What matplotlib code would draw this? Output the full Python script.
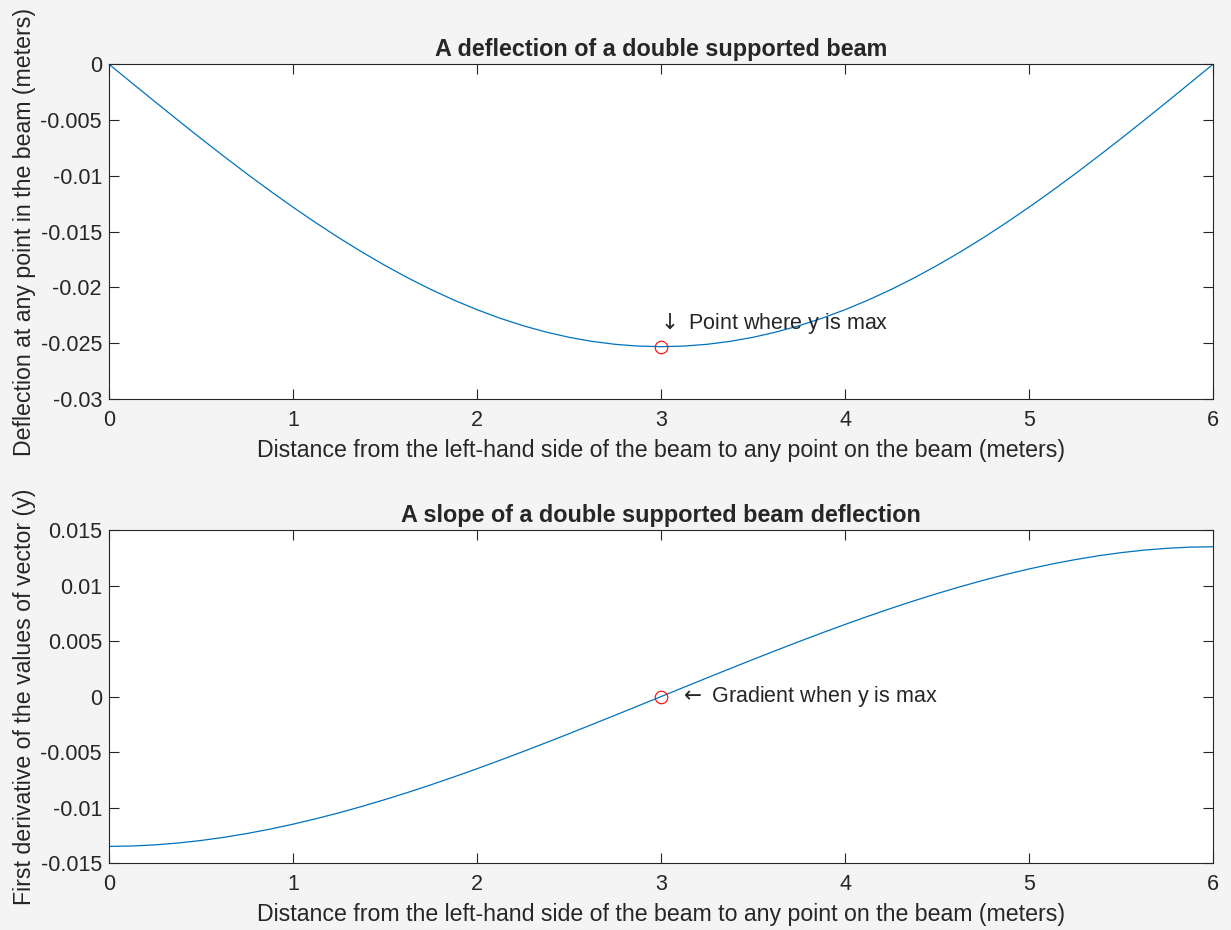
import matplotlib
matplotlib.use('Agg')
import matplotlib.pyplot as plt

# Points along the beam (m)
x = [0, 0.125, 0.25, 0.375, 0.5, 0.625, 0.75, 0.875, 1, 1.125, 1.25, 1.375,
     1.5, 1.625, 1.75, 1.875, 2, 2.125, 2.25, 2.375, 2.5, 2.625, 2.75, 2.875,
     3, 3.125, 3.25, 3.375, 3.5, 3.625, 3.75, 3.875, 4, 4.125, 4.25, 4.375,
     4.5, 4.625, 4.75, 4.875, 5, 5.125, 5.25, 5.375, 5.5, 5.625, 5.75, 5.875, 6]

# Deflection of the beam (m)
deflection = [0, -0.001686, -0.003364, -0.005024, -0.006660, -0.008264,
              -0.009828, -0.011347, -0.012813, -0.014220, -0.015563,
              -0.016836, -0.018035, -0.019155, -0.020192, -0.021141,
              -0.022000, -0.022765, -0.023434, -0.024004, -0.024473,
              -0.024839, -0.025102, -0.025260, -0.025313,
              -0.025260, -0.025102, -0.024839, -0.024473, -0.024004,
              -0.023434, -0.022765, -0.022000, -0.021141, -0.020192,
              -0.019155, -0.018035, -0.016836, -0.015563, -0.014220,
              -0.012813, -0.011347, -0.009828, -0.008264, -0.006660,
              -0.005024, -0.003364, -0.001686, 0]

# First derivative of the deflection
slope = [-0.013500, -0.013465, -0.013363, -0.013197, -0.012969, -0.012682,
         -0.012340, -0.011945, -0.011500, -0.011008, -0.010473, -0.009896,
         -0.009281, -0.008631, -0.007949, -0.007238, -0.006500, -0.005739,
         -0.004957, -0.004158, -0.003344, -0.002518, -0.001684, -0.000843,
         0.0,
         0.000843, 0.001684, 0.002518, 0.003344, 0.004158, 0.004957,
         0.005739, 0.006500, 0.007238, 0.007949, 0.008631, 0.009281,
         0.009896, 0.010473, 0.011008, 0.011500, 0.011945, 0.012340,
         0.012682, 0.012969, 0.013197, 0.013363, 0.013465, 0.013500]

x_max = 3
y_max = -0.025313
slope_at_max = 0.0

x_ticks = [0, 1, 2, 3, 4, 5, 6]
top_yticks = [-0.03, -0.025, -0.02, -0.015, -0.01, -0.005, 0]
top_ylabels = ['-0.03', '-0.025', '-0.02', '-0.015', '-0.01', '-0.005', '0']
bot_yticks = [-0.015, -0.01, -0.005, 0, 0.005, 0.01, 0.015]
bot_ylabels = ['-0.015', '-0.01', '-0.005', '0', '0.005', '0.01', '0.015']

plt.rcParams['font.family'] = ['Liberation Sans', 'DejaVu Sans']
plt.rcParams['mathtext.fontset'] = 'dejavusans'
txt = '#262626'
blue = '#0072BD'

fig = plt.figure(figsize=(12.31, 9.30), dpi=100)
fig.patch.set_facecolor('#f4f4f4')

ax1 = fig.add_axes([0.0885, 0.571, 0.897, 0.360])
ax2 = fig.add_axes([0.0885, 0.072, 0.897, 0.358])


def style_axes(ax, yticks, ylabels):
    ax.set_facecolor('white')
    ax.set_xlim(0, 6)
    ax.set_xticks(x_ticks)
    ax.set_xticklabels([str(t) for t in x_ticks])
    ax.set_yticks(yticks)
    ax.set_yticklabels(ylabels)
    ax.set_ylim(yticks[0], yticks[-1])
    ax.tick_params(direction='in', length=7, width=0.8, colors=txt,
                   labelsize=15.5, top=True, right=True, pad=5)
    ax.tick_params(axis='x', pad=8)
    for sp in ax.spines.values():
        sp.set_color(txt)
        sp.set_linewidth(0.8)


# Deflection plot
ax1.plot(x, deflection, color=blue, linewidth=0.9)
ax1.plot(x_max, y_max, 'o', markersize=9, markerfacecolor='none',
         markeredgecolor='red', markeredgewidth=0.8)
ax1.text(2.975, -0.0232, r'$\downarrow$ Point where y is max', fontsize=15.5,
         color=txt, va='center', ha='left')
style_axes(ax1, top_yticks, top_ylabels)
ax1.set_title('A deflection of a double supported beam', fontsize=16.8,
              fontweight='bold', color=txt, pad=6)
ax1.set_xlabel('Distance from the left-hand side of the beam to any point on the beam (meters)',
               fontsize=16.7, color=txt, labelpad=6)
ax1.set_ylabel('Deflection at any point in the beam (meters)',
               fontsize=16.7, color=txt, labelpad=3)

# Slope plot
ax2.plot(x, slope, color=blue, linewidth=0.9)
ax2.plot(x_max, slope_at_max, 'o', markersize=9, markerfacecolor='none',
         markeredgecolor='red', markeredgewidth=0.8)
ax2.text(3.1, 0, r'$\leftarrow$ Gradient when y is max', fontsize=15.5,
         color=txt, va='center', ha='left')
style_axes(ax2, bot_yticks, bot_ylabels)
ax2.set_title('A slope of a double supported beam deflection', fontsize=16.8,
              fontweight='bold', color=txt, pad=6)
ax2.set_xlabel('Distance from the left-hand side of the beam to any point on the beam (meters)',
               fontsize=16.7, color=txt, labelpad=6)
ax2.set_ylabel('First derivative of the values of vector (y)',
               fontsize=16.7, color=txt, labelpad=3)

fig.savefig('out.png', dpi=100, facecolor=fig.get_facecolor())
